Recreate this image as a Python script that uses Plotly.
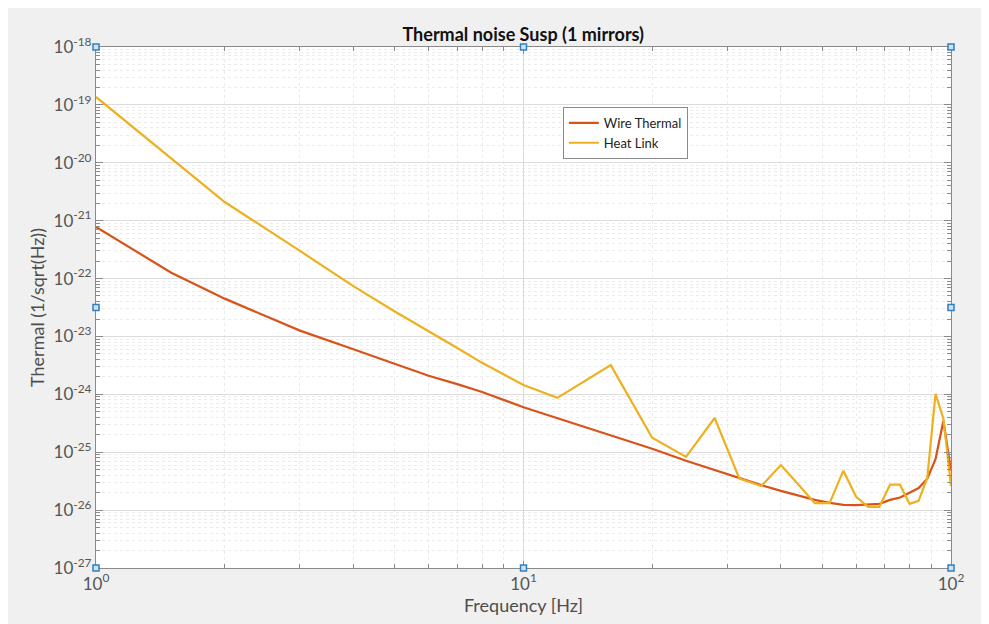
import plotly.graph_objects as go

freq = [1, 1.5, 2, 3, 4, 5, 6, 7, 8, 10, 12, 16, 20, 24, 28, 32, 36, 40, 44, 48, 52,
        56, 60, 64, 68, 72, 76, 80, 84, 88, 92, 96, 100]

wire_thermal = [7.8e-22, 1.26e-22, 4.5e-23, 1.26e-23, 6.0e-24, 3.4e-24, 2.1e-24, 1.5e-24,
                1.1e-24, 6.0e-25, 3.9e-25, 2.0e-25, 1.15e-25, 7.1e-26, 4.9e-26, 3.5e-26,
                2.7e-26, 2.15e-26, 1.77e-26, 1.5e-26, 1.33e-26, 1.23e-26, 1.22e-26,
                1.24e-26, 1.28e-26, 1.5e-26, 1.65e-26, 2.0e-26, 2.4e-26, 3.5e-26,
                7.6e-26, 3.5e-25, 4.8e-26]

heat_link = [1.37e-19, None, 2.1e-21, 3.0e-22, 7.4e-23, 2.7e-23, 1.25e-23, 6.3e-24,
             3.5e-24, 1.45e-24, 8.7e-25, 3.2e-24, 1.78e-25, 8.3e-26, 3.9e-25, 3.5e-26,
             2.6e-26, 6.0e-26, 2.75e-26, 1.32e-26, 1.32e-26, 4.8e-26, 1.7e-26,
             1.14e-26, 1.14e-26, 2.75e-26, 2.75e-26, 1.28e-26, 1.45e-26, 3.6e-26,
             1.02e-24, 3.8e-25, 2.6e-26]

x_exponents = [0, 1, 2]
y_exponents = [-18, -19, -20, -21, -22, -23, -24, -25, -26, -27]

hl_x = [f for f, v in zip(freq, heat_link) if v is not None]
hl_y = [v for v in heat_link if v is not None]


def minor_vals(exps):
    lo, hi = min(exps), max(exps)
    return [m * 10.0 ** e for e in range(lo, hi) for m in range(2, 10)]


FONT = "Lato"
fig = go.Figure()
fig.add_trace(go.Scatter(x=freq, y=wire_thermal, mode="lines", name="Wire Thermal",
                         line=dict(color="#D95319", width=2.2)))
fig.add_trace(go.Scatter(x=hl_x, y=hl_y, mode="lines", name="Heat Link",
                         line=dict(color="#EDB120", width=2.2)))

axis_common = dict(
    type="log", showline=True, linecolor="#8a8a8a", linewidth=1.2, mirror="ticks",
    ticks="inside", ticklen=7, tickcolor="#8a8a8a", showgrid=True,
    gridcolor="#dcdcdc", gridwidth=1, zeroline=False,
    tickfont=dict(family=FONT, size=17, color="#555555"),
)
minor_common = dict(ticks="inside", ticklen=4, tickcolor="#8a8a8a", showgrid=True,
                    gridcolor="#ebebeb", griddash="dot")

fig.update_xaxes(range=[0, 2], tickvals=[10 ** e for e in x_exponents],
                 ticktext=[f"10<sup>{e}</sup>" for e in x_exponents],
                 minor=dict(tickvals=minor_vals(x_exponents), **minor_common),
                 title=dict(text="Frequency [Hz]", font=dict(family=FONT, size=18, color="#4d4d4d"),
                            standoff=6),
                 **axis_common)
fig.update_yaxes(range=[-27, -18], tickvals=[10 ** e for e in y_exponents],
                 ticktext=[f"10<sup>{e}</sup>" for e in y_exponents],
                 minor=dict(tickvals=minor_vals(y_exponents), **minor_common),
                 title=dict(text="Thermal (1/sqrt(Hz))", font=dict(family=FONT, size=18, color="#4d4d4d"),
                            standoff=4),
                 **axis_common)

# MATLAB selection handles (decorative)
shapes = []
s = 3
for px, py in [(0, 0), (0.5, 0), (1, 0), (0, 0.5), (1, 0.5), (0, 1), (0.5, 1), (1, 1)]:
    shapes.append(dict(type="rect", xref="paper", yref="paper", x0=-s, x1=s, y0=-s, y1=s,
                       xsizemode="pixel", ysizemode="pixel",
                       xanchor=px, yanchor=py,
                       line=dict(color="#2f7fc1", width=1.5), fillcolor="#cfe3f5",
                       layer="above"))

fig.update_layout(
    width=989, height=624,
    margin=dict(l=88, r=46, t=39, b=64),
    paper_bgcolor="#f0f0f0", plot_bgcolor="white",
    title=dict(text="<b>Thermal noise Susp (1 mirrors)</b>", x=0.521, xanchor="center",
               y=0.958, yanchor="middle", font=dict(family=FONT, size=18, color="#111111")),
    legend=dict(x=0.546, y=0.885, xanchor="left", yanchor="top", bgcolor="white",
                bordercolor="#8a8a8a", borderwidth=1,
                font=dict(family=FONT, size=13, color="#222222"),
                tracegroupgap=0, itemwidth=30),
    shapes=shapes,
    showlegend=True,
)

fig.write_html("out.html")
